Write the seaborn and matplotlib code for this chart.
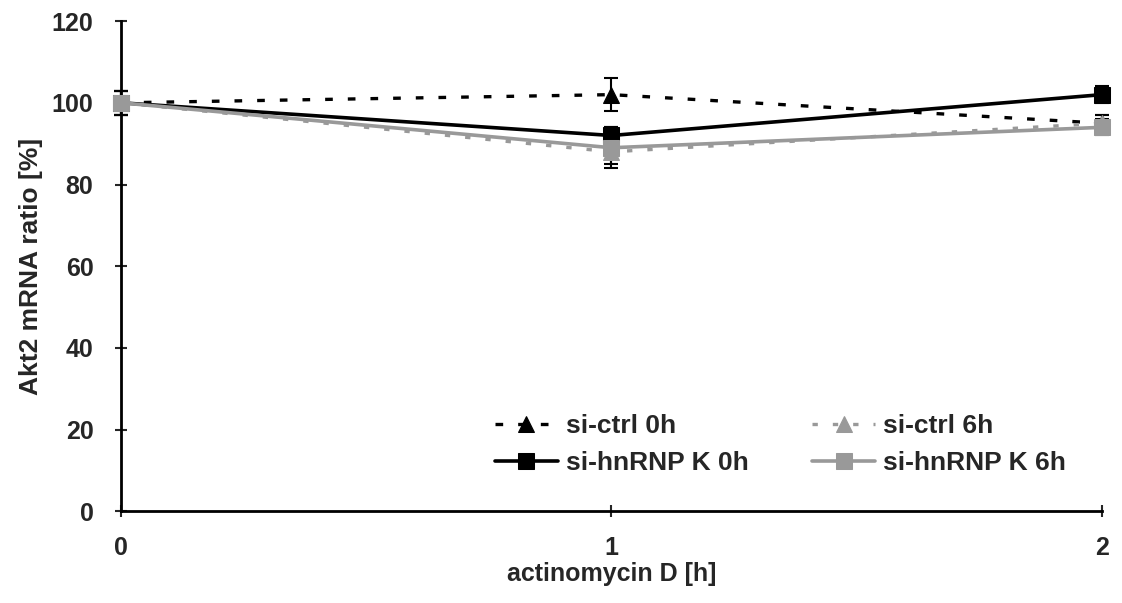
import matplotlib
matplotlib.use("Agg")
import matplotlib.pyplot as plt
import seaborn as sns
import pandas as pd

# Time points of actinomycin D treatment
hours = [0, 1, 2]

# Akt2 mRNA ratio (%) and error for each condition
ctrl_0h = [100, 102, 95]
ctrl_0h_err = [3, 4, 2]
ctrl_6h = [100, 88, 95]
ctrl_6h_err = [3, 3, 2]
hnrnpk_0h = [100, 92, 102]
hnrnpk_0h_err = [3, 2, 2]
hnrnpk_6h = [100, 89, 94]
hnrnpk_6h_err = [3, 5, 2]

series_names = ["si-ctrl 0h", "si-ctrl 6h", "si-hnRNP K 0h", "si-hnRNP K 6h"]

sns.set_theme(style="ticks")
plt.rcParams["font.family"] = ["Liberation Sans", "DejaVu Sans"]
plt.rcParams["font.weight"] = "bold"

rows = []
for name, vals in zip(series_names, [ctrl_0h, ctrl_6h, hnrnpk_0h, hnrnpk_6h]):
    for h, v in zip(hours, vals):
        rows.append({"hours": h, "ratio": v, "series": name})
df = pd.DataFrame(rows)

styles = {
    "si-ctrl 0h": dict(color="black", ls=(0, (2.3, 4.5)), marker="^", lw=2.4),
    "si-ctrl 6h": dict(color="#999999", ls=(0, (1.6, 4.5)), marker="^", lw=2.4),
    "si-hnRNP K 0h": dict(color="black", ls="-", marker="s", lw=2.6),
    "si-hnRNP K 6h": dict(color="#999999", ls="-", marker="s", lw=2.6),
}
errs = dict(zip(series_names, [ctrl_0h_err, ctrl_6h_err, hnrnpk_0h_err, hnrnpk_6h_err]))

fig = plt.figure(figsize=(11.22, 6.03), dpi=100)
ax = fig.add_axes([0.108, 0.152, 0.874, 0.813])

for name in series_names:
    st = styles[name]
    sub = df[df["series"] == name]
    sns.lineplot(data=sub, x="hours", y="ratio", ax=ax, color=st["color"],
                 linestyle=st["ls"], linewidth=st["lw"], marker=st["marker"],
                 markersize=11, markeredgecolor=st["color"], label=name,
                 errorbar=None, clip_on=False, zorder=3)
    ax.errorbar(sub["hours"], sub["ratio"], yerr=errs[name], fmt="none",
                ecolor="black", elinewidth=1.5, capsize=5, capthick=1.5,
                clip_on=False, zorder=2)

ax.set_xlim(0, 2)
ax.set_ylim(0, 120)
ax.set_xticks(hours)
ax.set_yticks(range(0, 121, 20))
ax.tick_params(axis="both", labelsize=18, width=1.5)
ax.tick_params(axis="y", direction="inout", length=8, pad=16)
ax.tick_params(axis="x", direction="inout", length=8, pad=14)
for lab in ax.get_xticklabels() + ax.get_yticklabels():
    lab.set_fontweight("bold")
ax.set_xlabel("actinomycin D [h]", fontsize=18, fontweight="bold", labelpad=1)
ax.set_ylabel("Akt2 mRNA ratio [%]", fontsize=19, fontweight="bold", labelpad=6)
for side in ["top", "right"]:
    ax.spines[side].set_visible(False)
for side in ["left", "bottom"]:
    ax.spines[side].set_linewidth(2)
    ax.spines[side].set_color("black")

# Row-wise legend: controls on the first row, knockdowns on the second
handles, labels = ax.get_legend_handles_labels()
order = [0, 2, 1, 3]
ax.legend([handles[i] for i in order], [labels[i] for i in order],
          ncol=2, loc="lower left", bbox_to_anchor=(0.441, 0.212),
          bbox_transform=fig.transFigure, frameon=False,
          prop={"size": 19, "weight": "bold"}, handlelength=2.4,
          columnspacing=2.4, labelspacing=0.5, handletextpad=0.3,
          borderpad=0, borderaxespad=0)

fig.savefig("out.png", dpi=100)
